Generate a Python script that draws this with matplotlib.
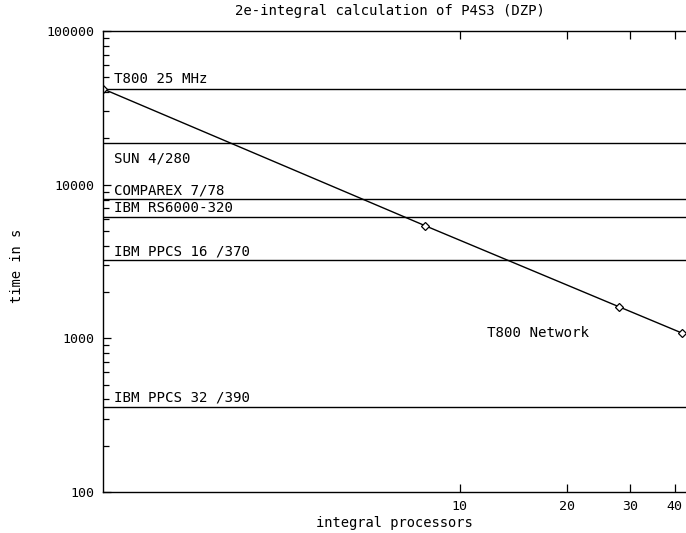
import matplotlib
matplotlib.use('Agg')
import matplotlib.pyplot as plt
from matplotlib.ticker import FixedLocator, NullFormatter, NullLocator

# reference machines (time in s)
machines = ['T800 25 MHz', 'SUN 4/280', 'COMPAREX 7/78', 'IBM RS6000-320',
            'IBM PPCS 16 /370', 'IBM PPCS 32 /390']
machine_times = [42000, 18600, 8050, 6150, 3220, 360]
# label heights (data units), above or below the line
label_y = [49000, 14700, 9150, 7000, 3650, 410]

# T800 network
procs = [1, 8, 28, 42]
net_times = [42000, 5400, 1600, 1080]

xticks = [10, 20, 30, 40]
yticks = [100, 1000, 10000, 100000]

mono = 'DejaVu Sans Mono'

fig = plt.figure(figsize=(6.86, 5.33), dpi=100)
ax = fig.add_axes([103 / 686, 41 / 533, 590 / 686, 461 / 533])
ax.set_xscale('log')
ax.set_yscale('log')
ax.set_xlim(1, 45)
ax.set_ylim(100, 100000)

for name, t, ly in zip(machines, machine_times, label_y):
    ax.axhline(t, color='black', lw=1.0)
    ax.text(1.075, ly, name, fontsize=10.2, family=mono, va='center', ha='left')

ax.plot(procs, net_times, color='black', lw=1.0, marker='D', markersize=4.5,
        markerfacecolor='white', markeredgecolor='black', markeredgewidth=0.9)
ax.text(11.9, 1080, 'T800 Network', fontsize=10.2, family=mono, va='center', ha='left')

ax.xaxis.set_major_locator(FixedLocator(xticks))
ax.xaxis.set_minor_locator(NullLocator())
ax.set_xticklabels([str(v) for v in xticks])
ax.yaxis.set_major_locator(FixedLocator(yticks))
ax.set_yticklabels([str(v) for v in yticks])
ax.yaxis.set_minor_formatter(NullFormatter())
ax.tick_params(axis='both', which='both', direction='in', top=True, right=False,
               labelsize=9.5, width=0.9)
ax.tick_params(axis='both', which='major', length=6, pad=6)
ax.tick_params(axis='y', which='minor', length=4)
for lab in ax.get_xticklabels() + ax.get_yticklabels():
    lab.set_family(mono)
for sp in ax.spines.values():
    sp.set_linewidth(1.0)

fig.text(390 / 686, 1 - 11 / 533, '2e-integral calculation of P4S3 (DZP)', fontsize=10.1,
         family=mono, ha='center', va='center')
fig.text(394 / 686, 1 - 523 / 533, 'integral processors', fontsize=9.9,
         family=mono, ha='center', va='center')
fig.text(17 / 686, 1 - 266 / 533, 'time in s', fontsize=9.9, rotation=90,
         family=mono, ha='center', va='center')

fig.savefig('out.png', dpi=100)
